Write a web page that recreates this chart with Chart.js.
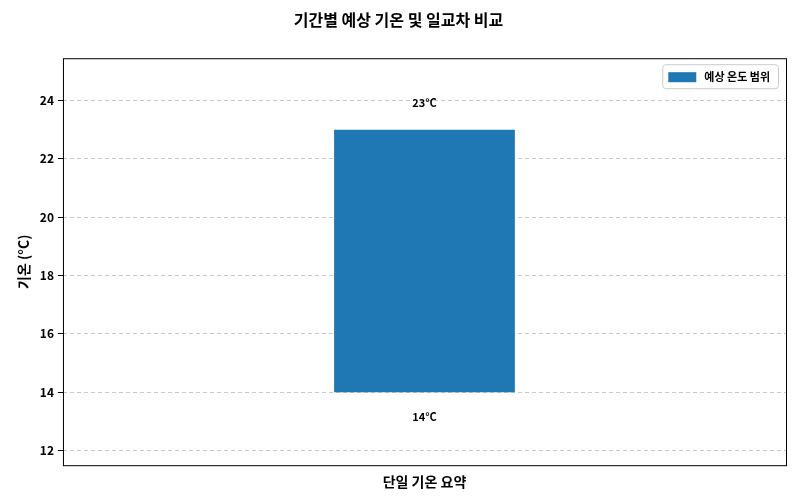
<!DOCTYPE html>
<html><head><meta charset="utf-8">
<script src="https://cdn.jsdelivr.net/npm/chart.js@4"></script>
<style>html,body{margin:0;padding:0;background:#fff}#w{width:800px;height:500px}</style>
</head><body><div id="w"><canvas id="c"></canvas></div>
<script>
const categories = ["단일 기온 요약"];
const lowTemps = [14];
const highTemps = [23];
const seriesName = "예상 온도 범위";
const yTicks = [12,14,16,18,20,22,24];
const F = "'Noto Sans CJK KR', 'Noto Sans', sans-serif";
const color = "#1f77b4";

const deco = {
  id: 'deco',
  afterDatasetsDraw(chart) {
    const {ctx, chartArea: a} = chart;
    const meta = chart.getDatasetMeta(0);
    const ys = chart.scales.y;
    ctx.save();
    ctx.font = "bold 11px " + F;
    ctx.fillStyle = "#000";
    ctx.textAlign = "center"; ctx.textBaseline = "middle";
    meta.data.forEach((b, i) => {
      ctx.fillText(highTemps[i] + "°C", b.x, ys.getPixelForValue(highTemps[i]) - 27);
      ctx.fillText(lowTemps[i] + "°C", b.x, ys.getPixelForValue(lowTemps[i]) + 25);
    });
    ctx.font = "bold 11px " + F;
    const tw = ctx.measureText(seriesName).width;
    const w = tw + 50, h = 24;
    const x = a.right - 8 - w, y = a.top + 6;
    ctx.fillStyle = "rgba(255,255,255,0.8)";
    ctx.strokeStyle = "#ccc"; ctx.lineWidth = 1;
    ctx.beginPath(); ctx.roundRect(x + 0.5, y + 0.5, w, h, 3); ctx.fill(); ctx.stroke();
    ctx.fillStyle = color;
    ctx.fillRect(x + 6, y + 8, 28, 10);
    ctx.fillStyle = "#000"; ctx.textAlign = "left";
    ctx.fillText(seriesName, x + 42, y + 13);
    ctx.strokeStyle = "#000"; ctx.lineWidth = 1;
    ctx.strokeRect(a.left + 0.5, a.top + 0.5, a.right - a.left, a.bottom - a.top);
    ctx.restore();
  }
};

new Chart(document.getElementById('c'), {
  type: 'bar',
  data: {
    labels: categories,
    datasets: [{
      label: seriesName,
      data: lowTemps.map((l, i) => [l, highTemps[i]]),
      backgroundColor: color,
      borderWidth: 0,
      barPercentage: 0.25, categoryPercentage: 1.0
    }]
  },
  options: {
    responsive: true, maintainAspectRatio: false, animation: false,
    layout: { padding: { left: 11, right: 14, top: 0, bottom: 10 } },
    plugins: {
      legend: { display: false }, tooltip: { enabled: false },
      title: { display: true, text: "기간별 예상 기온 및 일교차 비교",
        font: { family: F, size: 16, weight: 'bold' }, color: "#000",
        padding: { top: 10, bottom: 29 } }
    },
    scales: {
      x: {
        grid: { display: false },
        border: { display: false },
        ticks: { color: "#000", font: { family: F, size: 14, weight: 'bold' }, padding: 0 }
      },
      y: {
        min: 11.5, max: 25.45,
        afterBuildTicks(s) { s.ticks = yTicks.map(v => ({ value: v })); },
        grid: { color: "#c8c8c8", borderDash: [4, 3], drawTicks: true, tickLength: 5, tickColor: "#000" },
        border: { display: false, dash: [4, 3] },
        title: { display: true, text: "기온 (°C)", color: "#000", font: { family: F, size: 14, weight: 'bold' } },
        ticks: { color: "#000", font: { family: F, size: 12, weight: 'bold' }, padding: 4 }
      }
    }
  },
  plugins: [deco]
});
</script></body></html>
